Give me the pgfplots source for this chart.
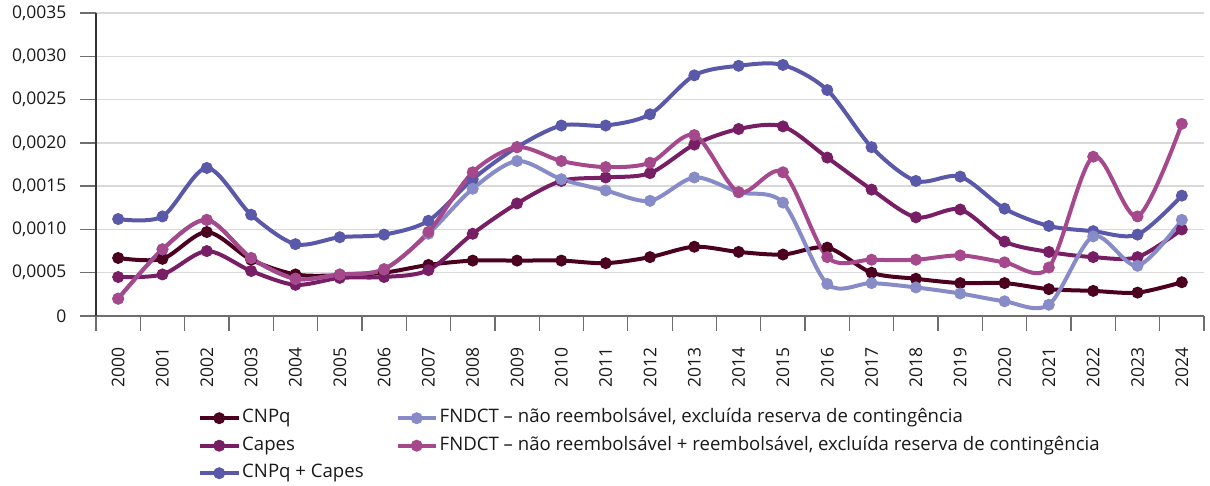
\documentclass[border=0pt]{standalone}
\usepackage{fontspec}
\setmainfont{Open Sans}
\usepackage{pgfplots}
\usepackage{pgfplotstable}
\pgfplotsset{compat=1.18}
\definecolor{cnpq}{RGB}{76,0,32}
\definecolor{capes}{RGB}{120,30,100}
\definecolor{sumc}{RGB}{90,88,168}
\definecolor{fnl}{RGB}{135,140,200}
\definecolor{fnp}{RGB}{165,72,140}
\definecolor{gridc}{RGB}{217,217,217}
\definecolor{axc}{RGB}{110,110,110}
\pgfplotstableread{
yr cnpq capes sum fnl fnp
0 0.00067 0.00045 0.00112 0.00020 0.00020
1 0.00066 0.00048 0.00115 0.00077 0.00077
2 0.00097 0.00075 0.00171 0.00111 0.00111
3 0.00065 0.00052 0.00117 0.00067 0.00067
4 0.00048 0.00036 0.00083 0.00043 0.00043
5 0.00047 0.00044 0.00091 0.00048 0.00048
6 0.00050 0.00045 0.00094 0.00054 0.00054
7 0.00059 0.00053 0.00110 0.00095 0.00097
8 0.00064 0.00095 0.00158 0.00147 0.00166
9 0.00064 0.00130 0.00195 0.00179 0.00195
10 0.00064 0.00156 0.00220 0.00158 0.00179
11 0.00061 0.00160 0.00220 0.00145 0.00172
12 0.00068 0.00165 0.00233 0.00133 0.00177
13 0.00080 0.00198 0.00278 0.00160 0.00209
14 0.00074 0.00216 0.00289 0.00143 0.00143
15 0.00071 0.00219 0.00290 0.00131 0.00166
16 0.00079 0.00183 0.00261 0.00037 0.00068
17 0.00050 0.00146 0.00195 0.00038 0.00065
18 0.00043 0.00114 0.00156 0.00033 0.00065
19 0.00038 0.00123 0.00161 0.00026 0.00070
20 0.00038 0.00086 0.00124 0.00017 0.00062
21 0.00031 0.00074 0.00104 0.00013 0.00056
22 0.00029 0.00068 0.00098 0.00092 0.00184
23 0.00027 0.00068 0.00094 0.00058 0.00115
24 0.00039 0.00100 0.00139 0.00111 0.00222
}\data
\begin{document}
\begin{tikzpicture}
\begin{axis}[
  at={(0,0)}, anchor=south west,
  width=1108pt, height=303pt, scale only axis,
  xmin=-0.5, xmax=24.5, ymin=0, ymax=0.0035,
  axis x line*=bottom, axis y line*=left,
  axis line style={axc, line width=1.5pt},
  x axis line style={-}, y axis line style={-, black!80},
  xtick={0,...,24},
  xticklabels={2000,2001,2002,2003,2004,2005,2006,2007,2008,2009,2010,2011,2012,2013,2014,2015,2016,2017,2018,2019,2020,2021,2022,2023,2024},
  minor xtick={-0.5,0.5,...,24.5},
  ytick={0,0.0005,0.001,0.0015,0.002,0.0025,0.003,0.0035},
  yticklabels={0,{0,0005},{0,0010},{0,0015},{0,0020},{0,0025},{0,0030},{0,0035}},
  scaled y ticks=false,
  ymajorgrids, grid style={gridc, line width=1.3pt},
  tick align=outside,
  major tick length=16pt, minor tick length=15pt,
  major x tick style={draw=none},
  minor x tick style={axc, line width=1.3pt},
  major y tick style={axc, line width=1.3pt},
  tick label style={font=\fontsize{17.5}{20}\selectfont, text=black!90},
  xticklabel style={rotate=90, anchor=east, inner xsep=15pt, inner ysep=2pt},
  yticklabel style={xshift=-10pt},
  every axis plot/.append style={smooth, line width=4pt, mark=*, mark size=5.5pt, mark options={line width=1pt}},
  legend style={at={(0.0921,-0.302)}, anchor=north west, draw=none, fill=none,
    font=\fontsize{18.6}{21}\selectfont, text=black!90, inner sep=0pt,
    nodes={inner sep=2pt, text height=13pt, text depth=4pt},
    row sep=6.5pt,
    /tikz/every even column/.append style={column sep=30pt}},
  legend columns=2,
  legend cell align=left,
  legend image code/.code={\draw[mark repeat=2, mark phase=2, #1] plot coordinates {(0pt,0pt) (19pt,0pt) (38pt,0pt)};},
]
\addplot[cnpq, forget plot] table[x=yr, y=cnpq] {\data};
\addplot[capes, forget plot] table[x=yr, y=capes] {\data};
\addplot[sumc, forget plot] table[x=yr, y=sum] {\data};
\addplot[fnl, forget plot] table[x=yr, y=fnl] {\data};
\addplot[fnp, forget plot] table[x=yr, y=fnp] {\data};
\addlegendimage{cnpq, line width=4pt, mark=*, mark size=5.5pt, mark options={line width=1pt}}
\addlegendentry{CNPq}
\addlegendimage{fnl, line width=4pt, mark=*, mark size=5.5pt, mark options={line width=1pt}}
\addlegendentry{FNDCT – não reembolsável, excluída reserva de contingência}
\addlegendimage{capes, line width=4pt, mark=*, mark size=5.5pt, mark options={line width=1pt}}
\addlegendentry{Capes}
\addlegendimage{fnp, line width=4pt, mark=*, mark size=5.5pt, mark options={line width=1pt}}
\addlegendentry{FNDCT – não reembolsável + reembolsável, excluída reserva de contingência}
\addlegendimage{sumc, line width=4pt, mark=*, mark size=5.5pt, mark options={line width=1pt}}
\addlegendentry{CNPq + Capes}
\end{axis}
\pgfresetboundingbox
\path[use as bounding box] (-96pt,-170pt) rectangle (1114pt,316pt);
\end{tikzpicture}
\end{document}
